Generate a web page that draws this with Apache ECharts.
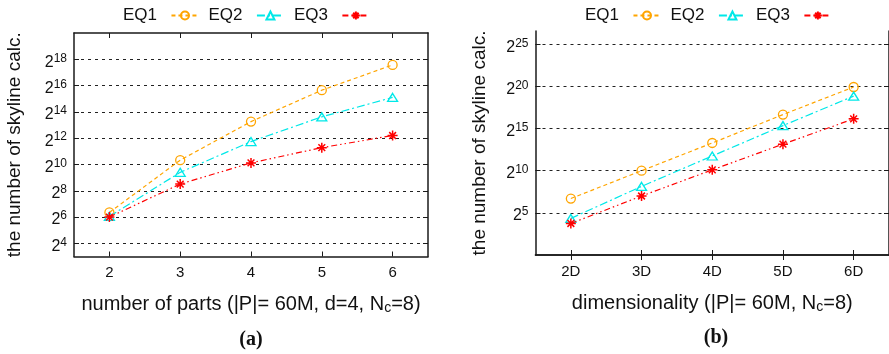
<!DOCTYPE html>
<html>
<head>
<meta charset="utf-8">
<script src="https://cdn.jsdelivr.net/npm/echarts@6/dist/echarts.min.js"></script>
<style>
  html, body { margin: 0; padding: 0; background: #fff; }
  #chart { width: 889px; height: 354px; }
</style>
</head>
<body>
<div id="chart"></div>
<script>
// Categories on the two x axes
const partCategories = ['2', '3', '4', '5', '6'];
const dimCategories = ['2D', '3D', '4D', '5D', '6D'];

// log2 of the number of skyline calculations, (a) by number of parts
const eq1Parts = [6.35, 10.33, 13.26, 15.65, 17.57];
const eq2Parts = [6.05, 9.4, 11.74, 13.62, 15.1];
const eq3Parts = [6.0, 8.51, 10.12, 11.28, 12.2];

// log2 of the number of skyline calculations, (b) by dimensionality
const eq1Dims = [6.7, 10.0, 13.29, 16.66, 19.93];
const eq2Dims = [4.34, 8.14, 11.75, 15.35, 18.85];
const eq3Dims = [3.74, 7.0, 10.1, 13.15, 16.15];

// Exponent ticks (labelled as powers of two) and axis ranges
const partExpTicks = [4, 6, 8, 10, 12, 14, 16, 18];
const dimExpTicks = [5, 10, 15, 20, 25];
const partExpRange = [3, 20];
const dimExpRange = [0, Math.log2(1e8)];

const seriesNames = ['EQ1', 'EQ2', 'EQ3'];

const FONT = 'Liberation Sans';
const AXIS_COLOR = '#1a1a1a';
const starPath = 'path://M0,5L10,5M5,0L5,10M1.6,1.6L8.4,8.4M8.4,1.6L1.6,8.4';

const seriesLook = [
  { color: '#ffa500', symbol: 'circle', symbolSize: 9, dash: [4, 3], width: 1.2 },
  { color: '#00e8e8', symbol: 'triangle', symbolSize: [10, 8], dash: [8, 3, 2, 3], width: 1.2 },
  { color: '#ff0000', symbol: starPath, symbolSize: 10, dash: [6, 3, 1.5, 3, 1.5, 3], width: 1.2 }
];

function makeSeries(idx, data, axisBase) {
  const look = seriesLook[idx];
  const star = idx === 2;
  return {
    type: 'line',
    name: seriesNames[idx],
    xAxisIndex: axisBase,
    yAxisIndex: axisBase,
    data: data,
    symbol: look.symbol,
    symbolSize: look.symbolSize,
    showSymbol: true,
    silent: true,
    animation: false,
    z: 3 + idx,
    lineStyle: { color: look.color, width: look.width, type: look.dash },
    itemStyle: {
      color: 'rgba(255,255,255,0)',
      borderColor: look.color,
      borderWidth: star ? 1.5 : 1.3
    }
  };
}

const supRich = {
  b: { fontFamily: FONT, fontSize: 16, color: '#111', lineHeight: 20 },
  s: { fontFamily: FONT, fontSize: 12, color: '#111', lineHeight: 9, verticalAlign: 'top' }
};

const nameRich = {
  sub: { fontFamily: FONT, fontSize: 14, color: '#111', lineHeight: 9, verticalAlign: 'bottom' }
};

function xAxesFor(gridIndex, cats, name) {
  const bottom = {
    type: 'category',
    gridIndex: gridIndex,
    position: 'bottom',
    data: cats,
    boundaryGap: true,
    axisLine: { show: true, lineStyle: { color: AXIS_COLOR, width: 1.5 } },
    axisTick: { show: true, inside: true, alignWithLabel: true, length: 5, lineStyle: { color: AXIS_COLOR, width: 1 } },
    axisLabel: { fontFamily: FONT, fontSize: 15, color: '#111', margin: 9 },
    splitLine: { show: false },
    name: name,
    nameLocation: 'middle',
    nameGap: 37,
    nameTextStyle: { fontFamily: FONT, fontSize: 20, color: '#111', lineHeight: 22, rich: nameRich }
  };
  const top = {
    type: 'category',
    gridIndex: gridIndex,
    position: 'top',
    data: cats,
    boundaryGap: true,
    axisLine: { show: true, lineStyle: { color: AXIS_COLOR, width: 1.5 } },
    axisTick: { show: true, inside: true, alignWithLabel: true, length: 5, lineStyle: { color: AXIS_COLOR, width: 1 } },
    axisLabel: { show: false },
    splitLine: { show: false }
  };
  return [bottom, top];
}

function yAxesFor(gridIndex, range, ticks, nameGap) {
  const left = {
    type: 'value',
    gridIndex: gridIndex,
    position: 'left',
    min: range[0],
    max: range[1],
    axisLine: { show: true, lineStyle: { color: AXIS_COLOR, width: 1.5 } },
    axisTick: { show: true, inside: true, length: 5, customValues: ticks, lineStyle: { color: AXIS_COLOR, width: 1 } },
    axisLabel: {
      customValues: ticks,
      margin: 7,
      padding: [6, 0, 0, 0],
      formatter: function (v) { return '{b|2}{s|' + v + '}'; },
      rich: supRich
    },
    splitLine: { show: true, lineStyle: { color: '#222', width: 1, type: [3, 4] } },
    name: 'the number of skyline calc.',
    nameLocation: 'middle',
    nameGap: nameGap,
    nameTextStyle: { fontFamily: FONT, fontSize: 19, color: '#111' }
  };
  const right = {
    type: 'value',
    gridIndex: gridIndex,
    position: 'right',
    min: range[0],
    max: range[1],
    axisLine: { show: true, lineStyle: { color: AXIS_COLOR, width: 1.5 } },
    axisTick: { show: true, inside: true, length: 5, customValues: ticks, lineStyle: { color: AXIS_COLOR, width: 1 } },
    axisLabel: { show: false },
    splitLine: { show: false }
  };
  return [left, right];
}

function legendAt(left) {
  return {
    left: left,
    top: 7,
    padding: 0,
    align: 'right',
    orient: 'horizontal',
    itemWidth: 27,
    itemHeight: 10,
    itemGap: 9,
    selectedMode: false,
    formatter: function (n) { return n + '  '; },
    textStyle: { fontFamily: FONT, fontSize: 17, color: '#111' },
    data: seriesNames
  };
}

const chart = echarts.init(document.getElementById('chart'), null, { renderer: 'canvas' });

chart.setOption({
  animation: false,
  backgroundColor: '#fff',
  title: [
    { text: '(a)', left: 251, top: 330, padding: 0, textAlign: 'center',
      textStyle: { fontFamily: 'Liberation Serif', fontSize: 20, fontWeight: 'bold', color: '#111' } },
    { text: '(b)', left: 716, top: 328, padding: 0, textAlign: 'center',
      textStyle: { fontFamily: 'Liberation Serif', fontSize: 20, fontWeight: 'bold', color: '#111' } }
  ],
  legend: [legendAt(123), legendAt(585)],
  grid: [
    { left: 74, top: 33, width: 354, height: 223.5, containLabel: false },
    { left: 535.5, top: 31, width: 355, height: 224, containLabel: false }
  ],
  xAxis: [
    ...xAxesFor(0, partCategories, 'number of parts (|P|= 60M, d=4, N{sub|c}=8)'),
    ...xAxesFor(1, dimCategories, 'dimensionality (|P|= 60M, N{sub|c}=8)')
  ],
  yAxis: [
    ...yAxesFor(0, partExpRange, partExpTicks, 50),
    ...yAxesFor(1, dimExpRange, dimExpTicks, 46)
  ],
  series: [
    makeSeries(0, eq1Parts, 0),
    makeSeries(1, eq2Parts, 0),
    makeSeries(2, eq3Parts, 0),
    makeSeries(0, eq1Dims, 2),
    makeSeries(1, eq2Dims, 2),
    makeSeries(2, eq3Dims, 2)
  ]
});
</script>
</body>
</html>
